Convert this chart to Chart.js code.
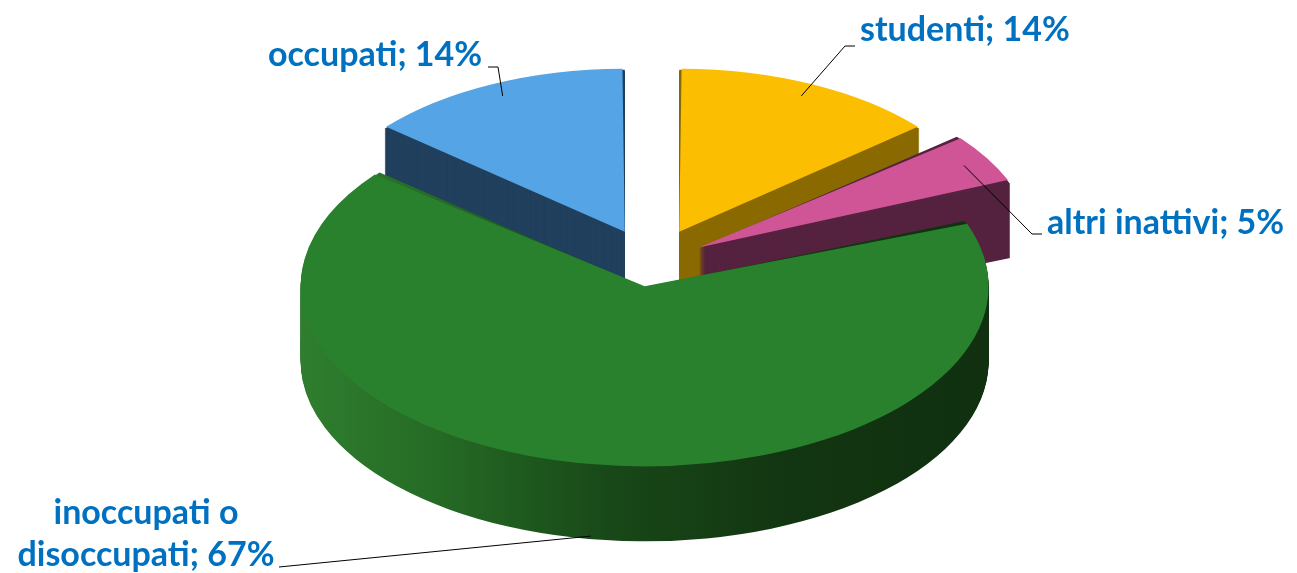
<!DOCTYPE html>
<html>
<head>
<meta charset="utf-8">
<script src="https://cdn.jsdelivr.net/npm/chart.js@4/dist/chart.umd.min.js"></script>
<style>
  html, body { margin: 0; padding: 0; background: #ffffff; }
  #wrap { width: 1297px; height: 573px; position: relative; }
  canvas { display: block; }
</style>
</head>
<body>
<div id="wrap"><canvas id="chart" width="1297" height="573"></canvas></div>
<script>
// ---- data ----
const categories = ['studenti', 'altri inattivi', 'inoccupati o disoccupati', 'occupati'];
const values = [14, 5, 67, 14];

// ---- styles ----
const topColors  = ['#FBBE00', '#D05597', '#2A812D', '#55A5E6'];
const sideColors = ['#8A6A00', '#55223F', 'gradient', '#21405E'];
const greenSideStops = [[0, '#2f7e2f'], [0.2, '#256a25'], [0.45, '#184818'], [0.7, '#133612'], [1, '#10300f']];
const explodePx = [68, 58, 50, 68];            // screen explosion (horizontal px)
const labelColor = '#0070C0';
const labelFont = 'bold 34px Lato, "Open Sans", sans-serif';

// view of the tilted pie (screen space)
const VIEW = { cx: 652, cy: 262, rimX: 344, rimY: 180, depth: 75 };
const HOVER_RESERVE = 200;
const R0 = (573 - HOVER_RESERVE) / 2;                     // radius chart.js will compute
const SX = (VIEW.rimX - explodePx[2]) / R0;               // horizontal scale
const offsets = explodePx.map(p => 4 * p / SX);           // chart.js arc offset option

// label placement (screen)
const LABELS = [
  { x: 860,  y: [41],       align: 'left',   path: [[855, 46], [845, 46]] },
  { x: 1047, y: [234],      align: 'left',   path: [[1042, 234], [1032, 234]] },
  { x: 146,  y: [524, 566], align: 'center', path: [[279, 567]], wrap: 'inoccupati o' },
  { x: 268,  y: [66],       align: 'left',   path: [[488, 67], [498, 67]] }
];

function arcGeom(el) {
  const off = (el.options.offset || 0) / 4;
  const circ = el.endAngle - el.startAngle;
  const fix = 1 - Math.sin(Math.min(Math.PI, circ));
  const h = (el.startAngle + el.endAngle) / 2;
  return { x: el.x + Math.cos(h) * off, y: el.y + Math.sin(h) * off,
           r: el.outerRadius + off * fix, s: el.startAngle, e: el.endAngle, h };
}
function viewTransform(arcs) {
  const g = arcGeom(arcs[2]);
  const sx = VIEW.rimX / g.r;
  const sy = VIEW.rimY / g.r;
  return { ox: arcs[0].x, oy: arcs[0].y, sx, sy };
}
function applyT(ctx, T) {
  ctx.translate(VIEW.cx, VIEW.cy);
  ctx.scale(T.sx, T.sy);
  ctx.translate(-T.ox, -T.oy);
}
function toScreen(T, x, y) {
  return [VIEW.cx + T.sx * (x - T.ox), VIEW.cy + T.sy * (y - T.oy)];
}

const pie3d = {
  id: 'pie3d',
  beforeDatasetsDraw(chart) {
    const ctx = chart.ctx;
    const arcs = chart.getDatasetMeta(0).data;
    const T = viewTransform(arcs);
    const gx0 = T.ox + (300 - VIEW.cx) / T.sx, gx1 = T.ox + (988 - VIEW.cx) / T.sx;
    const grad = ctx.createLinearGradient(gx0, 0, gx1, 0);
    greenSideStops.forEach(s => grad.addColorStop(s[0], s[1]));
    for (let d = VIEW.depth; d >= 1; d--) {
      ctx.save();
      ctx.translate(0, d);
      applyT(ctx, T);
      arcs.forEach((el, i) => {
        const g = arcGeom(el);
        ctx.beginPath();
        ctx.moveTo(g.x, g.y);
        ctx.arc(g.x, g.y, g.r, g.s, g.e);
        ctx.closePath();
        ctx.fillStyle = sideColors[i] === 'gradient' ? grad : sideColors[i];
        ctx.fill();
      });
      ctx.restore();
    }
    ctx.save();
    applyT(ctx, T);
  },
  afterDatasetsDraw(chart) {
    const ctx = chart.ctx;
    ctx.restore();
    const arcs = chart.getDatasetMeta(0).data;
    const T = viewTransform(arcs);
    ctx.save();
    ctx.font = labelFont;
    ctx.fillStyle = labelColor;
    ctx.textBaseline = 'alphabetic';
    arcs.forEach((el, i) => {
      const L = LABELS[i];
      const text = categories[i] + '; ' + values[i] + '%';
      let lines = [text];
      if (L.wrap && text.startsWith(L.wrap)) lines = [L.wrap, text.slice(L.wrap.length).trim()];
      ctx.textAlign = L.align;
      lines.forEach((t, k) => ctx.fillText(t, L.x, L.y[k]));
      // leader line to the slice
      const g = arcGeom(el);
      const k = i === 2 ? 1.0 : 0.92;
      let [ax, ay] = toScreen(T, g.x + Math.cos(g.h) * g.r * k, g.y + Math.sin(g.h) * g.r * k);
      if (i === 2) ay += VIEW.depth - 3;
      ctx.beginPath();
      ctx.strokeStyle = '#000000';
      ctx.lineWidth = 1;
      ctx.moveTo(L.path[0][0], L.path[0][1]);
      for (let p = 1; p < L.path.length; p++) ctx.lineTo(L.path[p][0], L.path[p][1]);
      ctx.lineTo(ax, ay);
      ctx.stroke();
    });
    ctx.restore();
  }
};

new Chart(document.getElementById('chart'), {
  type: 'pie',
  data: {
    labels: categories,
    datasets: [{
      data: values,
      backgroundColor: topColors,
      borderWidth: 0,
      offset: offsets,
      hoverOffset: HOVER_RESERVE,
      clip: false
    }]
  },
  options: {
    responsive: false,
    animation: false,
    events: [],
    layout: { padding: 0 },
    rotation: 0,
    plugins: { legend: { display: false }, tooltip: { enabled: false }, title: { display: false } }
  },
  plugins: [pie3d]
});
</script>
</body>
</html>
